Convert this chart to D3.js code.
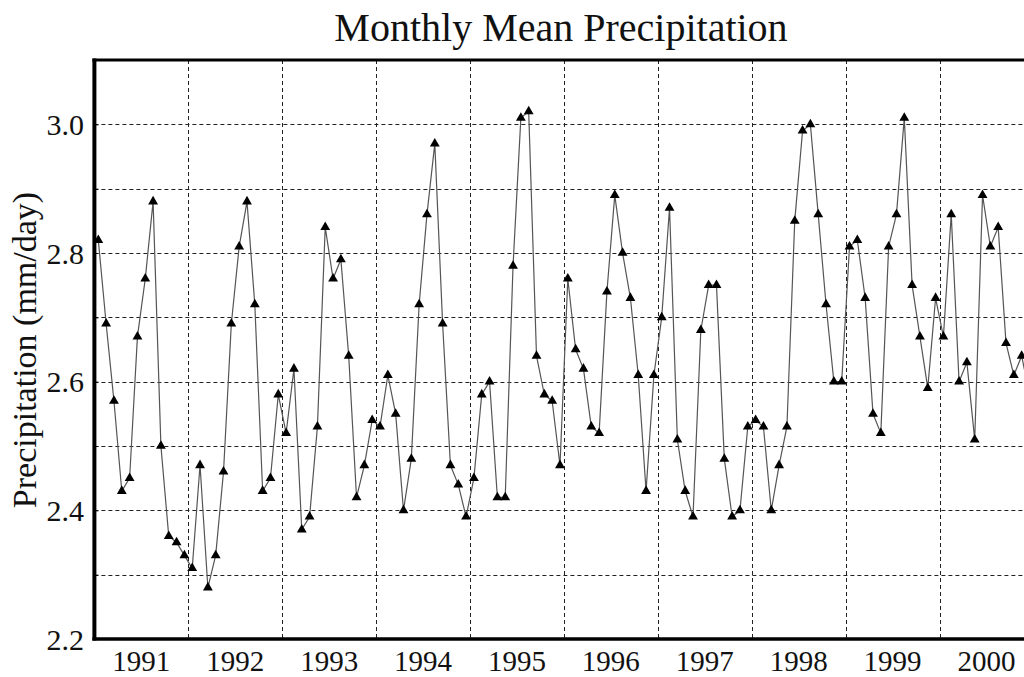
<!DOCTYPE html>
<html>
<head>
<meta charset="utf-8">
<script src="https://cdn.jsdelivr.net/npm/d3@7/dist/d3.min.js"></script>
<style>
  html, body { margin: 0; padding: 0; background: #fff; overflow: hidden; }
  svg { display: block; font-family: "Liberation Serif", "DejaVu Serif", serif; }
</style>
</head>
<body>
<svg id="chart" width="1024" height="677"></svg>
<script>
// monthly values, one row per year (Jan..Dec)
var years = [1991, 1992, 1993, 1994, 1995, 1996, 1997, 1998, 1999, 2000];
var yearLabels = ["1991", "1992", "1993", "1994", "1995", "1996", "1997", "1998", "1999", "2000"];
var precip1991 = [2.82, 2.69, 2.57, 2.43, 2.45, 2.67, 2.76, 2.88, 2.50, 2.36, 2.35, 2.33];
var precip1992 = [2.31, 2.47, 2.28, 2.33, 2.46, 2.69, 2.81, 2.88, 2.72, 2.43, 2.45, 2.58];
var precip1993 = [2.52, 2.62, 2.37, 2.39, 2.53, 2.84, 2.76, 2.79, 2.64, 2.42, 2.47, 2.54];
var precip1994 = [2.53, 2.61, 2.55, 2.40, 2.48, 2.72, 2.86, 2.97, 2.69, 2.47, 2.44, 2.39];
var precip1995 = [2.45, 2.58, 2.60, 2.42, 2.42, 2.78, 3.01, 3.02, 2.64, 2.58, 2.57, 2.47];
var precip1996 = [2.76, 2.65, 2.62, 2.53, 2.52, 2.74, 2.89, 2.80, 2.73, 2.61, 2.43, 2.61];
var precip1997 = [2.70, 2.87, 2.51, 2.43, 2.39, 2.68, 2.75, 2.75, 2.48, 2.39, 2.40, 2.53];
var precip1998 = [2.54, 2.53, 2.40, 2.47, 2.53, 2.85, 2.99, 3.00, 2.86, 2.72, 2.60, 2.60];
var precip1999 = [2.81, 2.82, 2.73, 2.55, 2.52, 2.81, 2.86, 3.01, 2.75, 2.67, 2.59, 2.73];
var precip2000 = [2.67, 2.86, 2.60, 2.63, 2.51, 2.89, 2.81, 2.84, 2.66, 2.61, 2.64, 2.58];
var yTicks = [2.2, 2.4, 2.6, 2.8, 3.0];
var yGrid = [2.3, 2.4, 2.5, 2.6, 2.7, 2.8, 2.9, 3.0];

var rows = [precip1991, precip1992, precip1993, precip1994, precip1995,
            precip1996, precip1997, precip1998, precip1999, precip2000];
var data = [];
rows.forEach(function (row, i) {
    row.forEach(function (v, m) {
        data.push({ t: years[i] + (m + 0.5) / 12, v: v });
    });
});

var svg = d3.select("#chart");
var plotLeft = 94.4, plotBottom = 639, plotTop = 60;
var x = d3.scaleLinear().domain([1991, 2001]).range([plotLeft, plotLeft + 939]);
var y = d3.scaleLinear().domain([2.2, 3.1]).range([plotBottom, plotTop]);

// grid
var grid = svg.append("g").attr("stroke", "#222").attr("stroke-width", 1)
    .attr("stroke-dasharray", "4,3").attr("fill", "none");
grid.selectAll("line.h").data(yGrid).enter().append("line")
    .attr("x1", plotLeft).attr("x2", 1040)
    .attr("y1", function (d) { return Math.round(y(d)) + 0.5; })
    .attr("y2", function (d) { return Math.round(y(d)) + 0.5; });
grid.selectAll("line.v").data(years.slice(1)).enter().append("line")
    .attr("y1", plotTop).attr("y2", plotBottom)
    .attr("x1", function (d) { return Math.round(x(d)) + 0.5; })
    .attr("x2", function (d) { return Math.round(x(d)) + 0.5; });

// left axis (ticks point inward, every 0.1)
var yAxis = d3.axisLeft(y).tickValues(yGrid).tickSize(-4).tickFormat("");
svg.append("g").attr("transform", "translate(" + plotLeft + ",0)").call(yAxis)
    .call(function (g) { g.select(".domain").remove(); });

svg.append("g").selectAll("text").data(yTicks).enter().append("text")
    .attr("x", 84).attr("y", function (d) { return y(d); })
    .attr("dy", "0.35em").attr("text-anchor", "end")
    .attr("font-size", 30).attr("fill", "#111")
    .text(function (d) { return d.toFixed(1); });

// year labels centred in each year
svg.append("g").selectAll("text").data(years).enter().append("text")
    .attr("x", function (d) { return x(d + 0.5); }).attr("y", 671)
    .attr("text-anchor", "middle").attr("font-size", 29).attr("fill", "#111")
    .text(function (d, i) { return yearLabels[i]; });

// series
var line = d3.line().x(function (d) { return x(d.t); }).y(function (d) { return y(d.v); });
svg.append("path").datum(data).attr("d", line)
    .attr("fill", "none").attr("stroke", "#555").attr("stroke-width", 1.2);
svg.append("g").selectAll("path").data(data).enter().append("path")
    .attr("d", d3.symbol().type(d3.symbolTriangle).size(42))
    .attr("transform", function (d) { return "translate(" + x(d.t) + "," + y(d.v) + ")"; })
    .attr("fill", "#000");

// frame
var frame = svg.append("g").attr("stroke", "#000").attr("fill", "none");
frame.append("line").attr("x1", plotLeft).attr("x2", plotLeft).attr("y1", plotTop - 1.5).attr("y2", plotBottom + 1.5).attr("stroke-width", 4);
frame.append("line").attr("x1", plotLeft - 2).attr("x2", 1040).attr("y1", plotTop).attr("y2", plotTop).attr("stroke-width", 3);
frame.append("line").attr("x1", plotLeft - 2).attr("x2", 1040).attr("y1", plotBottom).attr("y2", plotBottom).attr("stroke-width", 3.5);

// titles
svg.append("text").attr("x", 561).attr("y", 41).attr("text-anchor", "middle")
    .attr("font-size", 40).attr("fill", "#111").text("Monthly Mean Precipitation");
svg.append("text").attr("transform", "translate(36,350) rotate(-90)")
    .attr("text-anchor", "middle").attr("font-size", 34).attr("fill", "#111")
    .text("Precipitation (mm/day)");
</script>
</body>
</html>
